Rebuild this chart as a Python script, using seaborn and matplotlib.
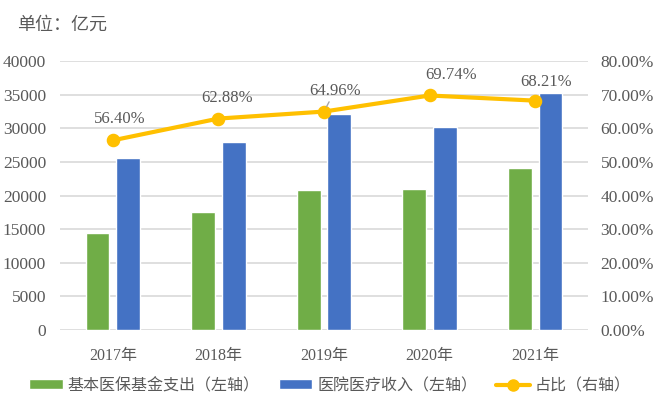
import matplotlib
matplotlib.use('Agg')
import matplotlib.pyplot as plt
import matplotlib.ticker as mticker
from matplotlib.patches import Patch
from matplotlib.lines import Line2D
import numpy as np
import pandas as pd
import seaborn as sns

# data
years = ['2017年', '2018年', '2019年', '2020年', '2021年']
fund_spend = [14422, 17608, 20854, 21032, 24043]      # 基本医保基金支出
hospital_income = [25571, 28003, 32103, 30158, 35249]  # 医院医疗收入
ratio = [0.5640, 0.6288, 0.6496, 0.6974, 0.6821]       # 占比
ratio_labels = ['56.40%', '62.88%', '64.96%', '69.74%', '68.21%']
series_names = ['基本医保基金支出（左轴）', '医院医疗收入（左轴）', '占比（右轴）']

# colours
green = '#70AD47'
blue = '#4472C4'
gold = '#FFC000'
txt = '#595959'
grid = '#D9D9D9'

sns.set_theme(style='white')
plt.rcParams['font.family'] = ['Liberation Serif', 'Noto Sans CJK SC', 'DejaVu Sans']

df = pd.DataFrame({
    'year': years * 2,
    'value': fund_spend + hospital_income,
    'series': [series_names[0]] * len(years) + [series_names[1]] * len(years),
})

fig = plt.figure(figsize=(6.6, 4.18), dpi=100)
ax = fig.add_axes([60/660, 1-330/418, 528/660, 269/418])

sns.barplot(data=df, x='year', y='value', hue='series', ax=ax,
            palette={series_names[0]: green, series_names[1]: blue},
            width=0.58, gap=0.22, saturation=1, legend=False, errorbar=None)
ax.set_ylim(0, 40000)
ax.set_yticks(np.arange(0, 40001, 5000))
ax.yaxis.grid(True, color=grid, lw=1.2)
ax.set_axisbelow(True)
ax.set_xlabel('')
ax.set_ylabel('')
ax.tick_params(axis='y', length=0, pad=10, labelsize=12.5, labelcolor=txt)
ax.tick_params(axis='x', length=0, pad=13, labelsize=11.5, labelcolor=txt)
for s in ax.spines.values():
    s.set_visible(False)

ax2 = ax.twinx()
sns.pointplot(x=years, y=ratio, ax=ax2, color=gold, errorbar=None,
              markers='o', markersize=7.5, linewidth=3)
ax2.set_ylim(0, 0.8)
ax2.set_yticks(np.arange(0, 0.81, 0.1))
ax2.yaxis.set_major_formatter(mticker.FuncFormatter(lambda v, p: '%.2f%%' % (v * 100)))
ax2.tick_params(axis='y', length=0, pad=9, labelsize=12.5, labelcolor=txt)
ax2.set_ylabel('')
ax2.set_xlim(-0.5, len(years) - 0.5)
for s in ax2.spines.values():
    s.set_visible(False)

# data labels
offsets = [(7, 21), (9, 21), (11, 21), (21, 20), (11, 19)]
for i, (lab, off) in enumerate(zip(ratio_labels, offsets)):
    kw = {}
    if i == 2:
        kw['arrowprops'] = dict(arrowstyle='-', color='#A6A6A6', lw=1,
                                shrinkA=0, shrinkB=4)
    ax2.annotate(lab, (i, ratio[i]), xytext=off, textcoords='offset pixels',
                 ha='center', va='center', fontsize=12, color=txt, **kw)

fig.text(17/660, 1-25/418, '单位：亿元', fontsize=13, color=txt,
         ha='left', va='center')

handles = [Patch(facecolor=green), Patch(facecolor=blue),
           Line2D([], [], color=gold, lw=3, marker='o', markersize=8)]
fig.legend(handles, series_names, loc='center', bbox_to_anchor=(0.5, 1-386/418),
           ncol=3, frameon=False, fontsize=11.5, labelcolor=txt,
           handlelength=2.1, handleheight=0.6, handletextpad=0.3,
           columnspacing=1.2)

fig.savefig('out.png', dpi=100)
